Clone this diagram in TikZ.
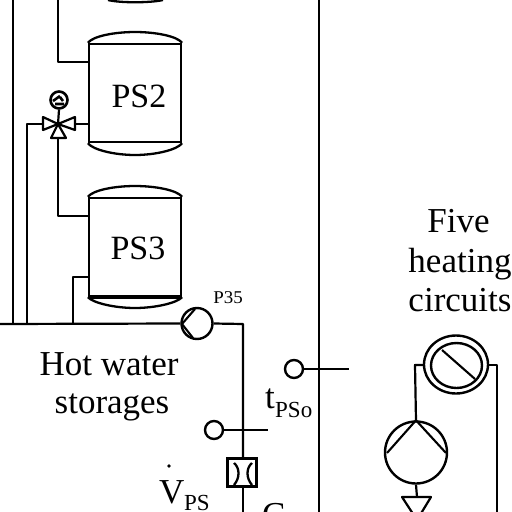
\documentclass[tikz,border=0pt]{standalone}
\usepackage{fontspec}
\setmainfont{Liberation Serif}
\tikzset{
  pipe/.style={line width=2.2pt,line join=round},
  vessel/.style={line width=2.3pt},
  tankbody/.style={draw,line width=2.3pt,minimum width=92,minimum height=98,inner sep=0pt,text=black,font=\fontsize{34}{34}\selectfont},
  lbl/.style={inner sep=0pt,text=black,font=\fontsize{35}{35}\selectfont},
  sublbl/.style={inner sep=0pt,text=black,font=\fontsize{23}{23}\selectfont},
  sensor/.style={circle,draw,line width=2.4pt,minimum size=18,inner sep=0pt},
  vtri/.style={line width=2.2pt,fill=white,line join=round}
}
\begin{document}
\begin{tikzpicture}[x=1pt,y=-1pt]
\useasboundingbox (0,0) rectangle (512,512);
% top tank remnant
\draw[vessel] (108,0) .. controls (120,3) and (150,3) .. (163,0);
% PS2
\node[tankbody] (ps2) at (135,93) {};
\node[lbl,font=\fontsize{34}{34}\selectfont,anchor=base] at (139,107) {PS2};
\draw[vessel] (ps2.north west) .. controls (93,36) and (115,32) .. (135,32) .. controls (155,32) and (177,36) .. (ps2.north east);
\draw[vessel] (ps2.south west) .. controls (93,150) and (115,155) .. (135,155) .. controls (155,155) and (177,150) .. (ps2.south east);
% PS3
\node[tankbody] (ps3) at (135,247) {};
\node[lbl,font=\fontsize{34}{34}\selectfont,anchor=base] at (138,259) {PS3};
\draw[vessel] (ps3.north west) .. controls (93,190) and (115,186) .. (135,186) .. controls (155,186) and (177,190) .. (ps3.north east);
\draw[vessel,line width=3pt] (ps3.south west) -- (ps3.south east);
\draw[vessel] (ps3.south west) .. controls (93,303) and (115,308) .. (135,308) .. controls (155,308) and (177,303) .. (ps3.south east);
% pipes
\coordinate (valve) at (58,124);
\coordinate (vl) at (43,124);
\coordinate (vr) at (75,124);
\draw[pipe] (13,0) -- (13,324);
\draw[pipe] (58,0) -- (58,62) -- (89,62);
\draw[pipe] (89,124) -- (vr);
\draw[pipe] (vl) -- (27,124) -- (27,324);
\draw[pipe] (valve) -- (58,216) -- (89,216);
\draw[pipe] (89,277) -- (73,277) -- (73,324);
\draw[pipe] (319,0) -- (319,512);
% P35 pump
\node[circle,draw,line width=2.4pt,minimum size=31,inner sep=0pt] (p35) at (197,323.5) {};
\draw[pipe] (0,324) -- (p35.west);
\draw[pipe] (p35.east) -- (243,324) -- (243,458);
\draw[line width=2.1pt] (182,324) -- (195,309) (182,324) -- (193,338);
\node[sublbl,font=\fontsize{18}{18}\selectfont,xscale=1.05] at (228,298) {P35};
% valve
\draw[vtri] (valve) -- (vl |- 0,117) -- (vl |- 0,130) -- cycle;
\draw[vtri] (valve) -- (vr |- 0,117) -- (vr |- 0,130) -- cycle;
\draw[vtri] (valve) -- (51,138) -- (66,138) -- cycle;
\fill (valve) circle (2.5);
\node[circle,draw,line width=2.6pt,minimum size=17,inner sep=0pt] (gauge) at (59,100) {};
\draw[line width=2.2pt] (gauge.south) -- (valve);
\draw[line width=2.6pt] (53,101) -- (60,96) (55,104) -- (64,104) (60,97) -- (63,101);
% text
\node[lbl,anchor=base] at (109,375) {Hot water};
\node[lbl,anchor=base] at (112,413) {storages};
\node[lbl,anchor=base] at (458.5,232) {Five};
\node[lbl,anchor=base] at (460,272) {heating};
\node[lbl,anchor=base] at (460,311) {circuits};
\node[lbl,anchor=base west] at (265,408) {t};
\node[sublbl,anchor=base west] at (275,417) {PSo};
% sensors
\node[sensor] (s1) at (294,369) {};
\coordinate (s1end) at (349,369);
\draw[pipe] (s1) -- (s1end);
\node[sensor] (s2) at (214,430) {};
\coordinate (s2end) at (268,430);
\draw[pipe] (s2) -- (s2end);
% flow meter
\node[draw,line width=2.8pt,minimum width=29,minimum height=28,inner sep=0pt] (fm) at (242,472.5) {};
\draw[pipe] (fm.south -| 243,0) -- (243,512);
\draw[line width=2.3pt] (234,463) .. controls (240,468) and (240,478) .. (234,485);
\draw[line width=2.3pt] (252,463) .. controls (246,468) and (246,478) .. (252,485);
\node[lbl,anchor=base west] (v) at (159,503) {V};
\fill (169,466) circle (1.8);
\node[sublbl,anchor=base west] at (184,510) {PS};
\node[lbl,anchor=base west] at (262,526) {C};
% right circuit
\draw[line width=2.4pt] (456,364.5) ellipse (32 and 29);
\draw[line width=2.4pt] (456.5,365.5) ellipse (25.5 and 22.5);
\draw[line width=2.1pt] (442,350) -- (475,379);
\node[circle,draw,line width=2.4pt,minimum size=62,inner sep=0pt] (p2) at (416,452.5) {};
\draw[pipe] (424,365) -- (415,365) -- (p2.north);
\draw[pipe] (488,365) -- (497,365) -- (497,512);
\draw[line width=2.1pt] (p2.north) -- (387,453) (p2.north) -- (446,453);
\coordinate (ck) at (417,497);
\draw[pipe] (p2.south) -- (ck);
\draw[line width=2.2pt,line join=round] (402,497) -- (431,497) -- (417,520) -- cycle;
\node[lbl,anchor=base west] at (368,535) {P};
\end{tikzpicture}
\end{document}
